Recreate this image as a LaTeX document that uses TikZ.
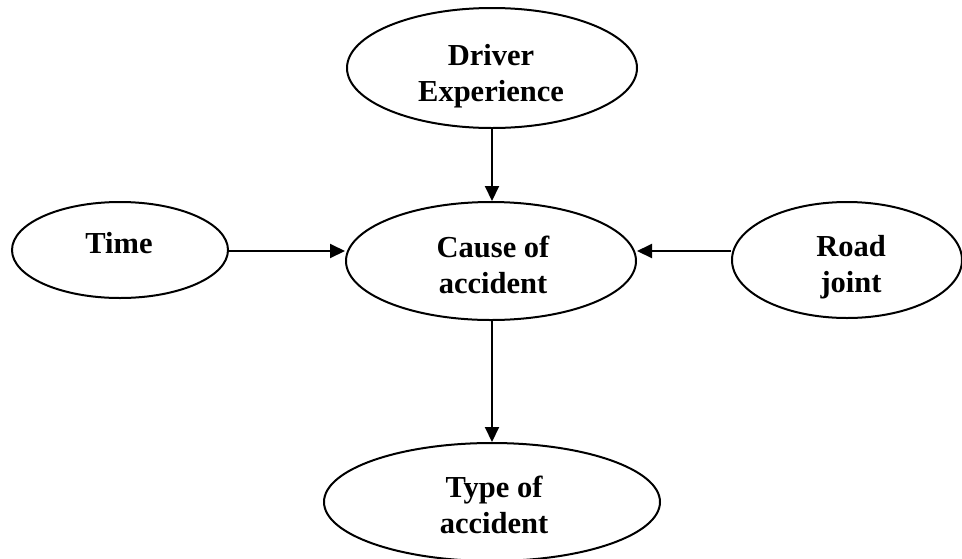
\documentclass[tikz,border=0pt]{standalone}
\usepackage{fontspec}
\setmainfont{Liberation Serif}
\usetikzlibrary{shapes.geometric,arrows.meta}
\begin{document}
\begin{tikzpicture}[x=1pt,y=-1pt,
  oval/.style={draw=black,line width=2pt,ellipse,inner sep=0pt},
  lbl/.style={font=\bfseries\fontsize{30.5}{36}\selectfont,align=center,anchor=base,inner sep=0pt},
  arr/.style={line width=2pt,-{Triangle[length=15pt,width=14pt]}}]
\useasboundingbox (0,0) rectangle (962,558);
\node[oval,minimum width=290pt,minimum height=120pt] (drv) at (492,68) {};
\node[oval,minimum width=216pt,minimum height=96pt] (time) at (120,250) {};
\node[oval,minimum width=290pt,minimum height=118pt] (cause) at (491,261) {};
\node[oval,minimum width=230pt,minimum height=116pt] (road) at (847,260) {};
\node[oval,minimum width=336pt,minimum height=118pt] (type) at (492,502) {};
\node[lbl] (drvt) at (491,101) {Driver\\Experience};
\node[lbl] (timet) at (119,253) {Time};
\node[lbl] (causet) at (493,293) {Cause of\\accident};
\node[lbl] (roadt) at (851,292) {Road\\joint};
\node[lbl] (typet) at (494,533) {Type of\\accident};
\coordinate (lvl) at ([yshift=-1pt]time.east);
\draw[arr] (drv.south) -- (drv.south |- cause.north);
\draw[arr] (lvl) -- (lvl -| cause.west);
\draw[arr] (road.west |- lvl) -- (cause.east |- lvl);
\draw[arr] (cause.south -| drv.south) -- (type.north -| drv.south);
\end{tikzpicture}
\end{document}
